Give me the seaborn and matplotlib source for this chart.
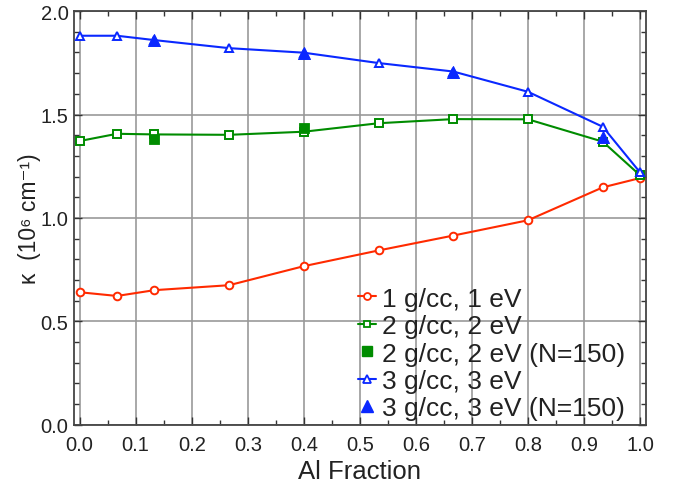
import matplotlib
matplotlib.use("Agg")
import matplotlib.pyplot as plt
from matplotlib.lines import Line2D
from matplotlib.ticker import MultipleLocator
import seaborn as sns
import pandas as pd

sns.set_theme(style="white")
plt.rcParams['font.family'] = ['Liberation Sans', 'DejaVu Sans']

al_fraction = [0.0, 1/15, 2/15, 4/15, 6/15, 8/15, 10/15, 12/15, 14/15, 1.0]
k_1gcc = [0.641, 0.623, 0.651, 0.675, 0.767, 0.843, 0.915, 0.989, 1.148, 1.193]
k_2gcc = [1.372, 1.407, 1.404, 1.402, 1.417, 1.458, 1.478, 1.477, 1.369, 1.206]
k_3gcc = [1.881, 1.881, 1.860, 1.821, 1.799, 1.749, 1.708, 1.610, 1.441, 1.220]

n150_x_2gcc = [2/15, 6/15]
n150_k_2gcc = [1.382, 1.436]
n150_x_3gcc = [2/15, 6/15, 10/15, 14/15]
n150_k_3gcc = [1.860, 1.797, 1.707, 1.390]

labels = ["1 g/cc, 1 eV", "2 g/cc, 2 eV", "2 g/cc, 2 eV (N=150)",
          "3 g/cc, 3 eV", "3 g/cc, 3 eV (N=150)"]

red = "#ff2a00"
green = "#008c00"
blue = "#0a28ff"

fig = plt.figure(figsize=(6.79, 4.85), dpi=100)
ax = fig.add_axes([0.109, 0.122, 0.842, 0.853])

df1 = pd.DataFrame({"x": al_fraction, "y": k_1gcc})
df2 = pd.DataFrame({"x": al_fraction, "y": k_2gcc})
df3 = pd.DataFrame({"x": al_fraction, "y": k_3gcc})

sns.lineplot(data=df1, x="x", y="y", ax=ax, color=red, lw=1.5, marker="o",
             markersize=5.5, markerfacecolor="white", markeredgecolor=red,
             markeredgewidth=1.4, zorder=5)
sns.lineplot(data=df2, x="x", y="y", ax=ax, color=green, lw=1.5, marker="s",
             markersize=5.5, markerfacecolor="white", markeredgecolor=green,
             markeredgewidth=1.4, zorder=5)
sns.lineplot(data=df3, x="x", y="y", ax=ax, color=blue, lw=1.5, marker="^",
             markersize=6, markerfacecolor="white", markeredgecolor=blue,
             markeredgewidth=1.4, zorder=6)
sns.scatterplot(x=n150_x_2gcc, y=n150_k_2gcc, ax=ax, color=green, marker="s",
                s=55, edgecolor=green, zorder=7)
sns.scatterplot(x=n150_x_3gcc, y=n150_k_3gcc, ax=ax, color=blue, marker="^",
                s=75, edgecolor=blue, zorder=8)

ax.set_xlim(-0.01, 1.01)
ax.set_ylim(0.0, 2.0)
ax.xaxis.set_major_locator(MultipleLocator(0.1))
ax.xaxis.set_minor_locator(MultipleLocator(0.05))
ax.yaxis.set_major_locator(MultipleLocator(0.5))
ax.yaxis.set_minor_locator(MultipleLocator(0.1))
ax.xaxis.set_major_formatter(matplotlib.ticker.FormatStrFormatter("%.1f"))
ax.yaxis.set_major_formatter(matplotlib.ticker.FormatStrFormatter("%.1f"))
ax.tick_params(which="both", direction="in", top=True, right=True,
               bottom=True, left=True, color="#333333")
ax.tick_params(which="major", length=6, width=1, labelsize=14.5, colors="#333333",
               labelcolor="#222222")
ax.tick_params(axis="x", which="major", pad=7)
ax.tick_params(axis="y", which="major", pad=4)
ax.tick_params(which="minor", length=3.5, width=1, color="#333333")
ax.grid(True, which="major", color="#999999", lw=1.2)
for sp in ax.spines.values():
    sp.set_color("#444444")
    sp.set_linewidth(1.3)

ax.set_xlabel("Al Fraction", fontsize=18.5, color="#222222", labelpad=4)
ax.set_ylabel("κ  (10⁶ cm⁻¹)", fontsize=16.5, color="#222222", labelpad=0)

handles = [
    Line2D([], [], color=red, lw=1.5, marker="o", markersize=5,
           markerfacecolor="white", markeredgecolor=red, markeredgewidth=1.3),
    Line2D([], [], color=green, lw=1.5, marker="s", markersize=5,
           markerfacecolor="white", markeredgecolor=green, markeredgewidth=1.3),
    Line2D([], [], color=green, lw=0, marker="s", markersize=7),
    Line2D([], [], color=blue, lw=1.5, marker="^", markersize=5.5,
           markerfacecolor="white", markeredgecolor=blue, markeredgewidth=1.3),
    Line2D([], [], color=blue, lw=0, marker="^", markersize=8),
]
leg = ax.legend(handles, labels, loc="lower left", bbox_to_anchor=(0.464, -0.034),
                frameon=False, fontsize=19, handlelength=0.68, handletextpad=0.22,
                labelspacing=0.13, borderaxespad=0.3)
for t in leg.get_texts():
    t.set_color("#222222")

fig.savefig("out.png", dpi=100)
